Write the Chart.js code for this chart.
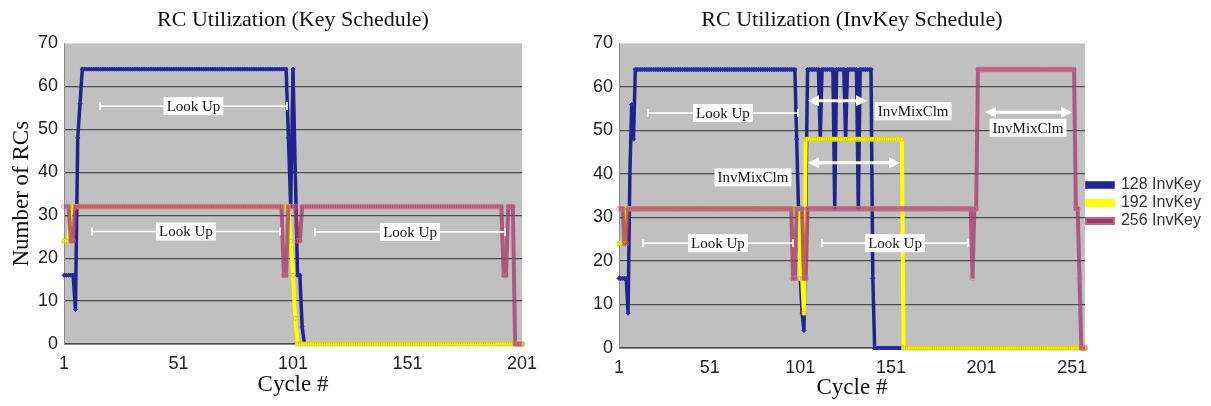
<!DOCTYPE html>
<html><head><meta charset="utf-8">
<script src="https://cdn.jsdelivr.net/npm/chart.js@4.4.1/dist/chart.umd.min.js"></script>
<style>
html,body{margin:0;padding:0;background:#fff;width:1211px;height:406px;overflow:hidden}
.box{position:absolute;top:0;height:406px}
</style></head><body>
<div class="box" style="left:0;width:560px"><canvas id="c1"></canvas></div>
<div class="box" style="left:575px;width:636px"><canvas id="c2"></canvas></div>
<script>
// ---------- categories / tick labels ----------
const keyCycles = Array.from({length: 201}, (_, i) => i + 1);
const invCycles = Array.from({length: 258}, (_, i) => i + 1);
const keyTickLabels = [1, 51, 101, 151, 201];
const invTickLabels = [1, 51, 101, 151, 201, 251];
const seriesNames = ['128 InvKey', '192 InvKey', '256 InvKey'];

// ---------- Key Schedule series (cycles 1..201) ----------
const key128 = [
16,16,16,16,16,8,48,56,64,64,
64,64,64,64,64,64,64,64,64,64, 64,64,64,64,64,64,64,64,64,64,
64,64,64,64,64,64,64,64,64,64, 64,64,64,64,64,64,64,64,64,64,
64,64,64,64,64,64,64,64,64,64, 64,64,64,64,64,64,64,64,64,64,
64,64,64,64,64,64,64,64,64,64, 64,64,64,64,64,64,64,64,64,64,
64,64,64,64,64,64,64,64,48,32,
64,40,16,16,4,0,0,0,0,0,
0,0,0,0,0,0,0,0,0,0, 0,0,0,0,0,0,0,0,0,0, 0,0,0,0,0,0,0,0,0,0,
0,0,0,0,0,0,0,0,0,0, 0,0,0,0,0,0,0,0,0,0, 0,0,0,0,0,0,0,0,0,0,
0,0,0,0,0,0,0,0,0,0, 0,0,0,0,0,0,0,0,0,0, 0,0,0,0,0,0,0,0,0,0,
0];
const key192 = [
24,24,24,32,32,32,32,32,32,32,
32,32,32,32,32,32,32,32,32,32, 32,32,32,32,32,32,32,32,32,32,
32,32,32,32,32,32,32,32,32,32, 32,32,32,32,32,32,32,32,32,32,
32,32,32,32,32,32,32,32,32,32, 32,32,32,32,32,32,32,32,32,32,
32,32,32,32,32,32,32,32,32,32, 32,32,32,32,32,32,32,32,32,32,
32,32,32,32,32,32,32,32,32,24,
16,6,0,0,0,0,0,0,0,0,
0,0,0,0,0,0,0,0,0,0, 0,0,0,0,0,0,0,0,0,0, 0,0,0,0,0,0,0,0,0,0,
0,0,0,0,0,0,0,0,0,0, 0,0,0,0,0,0,0,0,0,0, 0,0,0,0,0,0,0,0,0,0,
0,0,0,0,0,0,0,0,0,0, 0,0,0,0,0,0,0,0,0,0, 0,0,0,0,0,0,0,0,0,0,
0];
const key256 = [
32,32,32,24,24,32,32,32,32,32,
32,32,32,32,32,32,32,32,32,32, 32,32,32,32,32,32,32,32,32,32,
32,32,32,32,32,32,32,32,32,32, 32,32,32,32,32,32,32,32,32,32,
32,32,32,32,32,32,32,32,32,32, 32,32,32,32,32,32,32,32,32,32,
32,32,32,32,32,32,32,32,32,32, 32,32,32,32,32,32,32,32,32,32,
32,32,32,32,32,32,16,16,32,32,
32,32,24,24,32,32,32,32,32,32,
32,32,32,32,32,32,32,32,32,32, 32,32,32,32,32,32,32,32,32,32,
32,32,32,32,32,32,32,32,32,32, 32,32,32,32,32,32,32,32,32,32,
32,32,32,32,32,32,32,32,32,32, 32,32,32,32,32,32,32,32,32,32,
32,32,32,32,32,32,32,32,32,32, 32,32,32,32,32,32,32,32,32,32,
32,32,16,16,32,32,32,0,0,0,
0];

// ---------- InvKey Schedule series (cycles 1..258) ----------
const inv128 = [
16,16,16,16,16,8,40,56,48,64,
64,64,64,64,64,64,64,64,64,64, 64,64,64,64,64,64,64,64,64,64,
64,64,64,64,64,64,64,64,64,64, 64,64,64,64,64,64,64,64,64,64,
64,64,64,64,64,64,64,64,64,64, 64,64,64,64,64,64,64,64,64,64,
64,64,64,64,64,64,64,64,64,64, 64,64,64,64,64,64,64,64,64,64,
64,64,64,64,64,64,64,64,48,32,
16,8,4,32,64,64,64,64,64,64,
64,48,64,64,64,64,64,64,64,32,
64,64,64,64,64,48,64,64,64,64,
64,64,32,64,64,64,64,64,64,64,
16,0,0,0,0,0,0,0,0,0,
0,0,0,0,0,0,0,0,0,0, 0,0,0,0,0,0,0,0,0,0, 0,0,0,0,0,0,0,0,0,0,
0,0,0,0,0,0,0,0,0,0, 0,0,0,0,0,0,0,0,0,0, 0,0,0,0,0,0,0,0,0,0,
0,0,0,0,0,0,0,0,0,0, 0,0,0,0,0,0,0,0,0,0, 0,0,0,0,0,0,0,0,0,0,
0,0,0,0,0,0,0,0,0,0,
0,0,0,0,0,0,0,0];
const inv192 = [
24,24,24,24,32,32,32,32,32,32,
32,32,32,32,32,32,32,32,32,32, 32,32,32,32,32,32,32,32,32,32,
32,32,32,32,32,32,32,32,32,32, 32,32,32,32,32,32,32,32,32,32,
32,32,32,32,32,32,32,32,32,32, 32,32,32,32,32,32,32,32,32,32,
32,32,32,32,32,32,32,32,32,32, 32,32,32,32,32,32,32,32,32,32,
32,32,32,32,32,32,32,32,32,32,
16,16,8,48,48,48,48,48,48,48,
48,48,48,48,48,48,48,48,48,48, 48,48,48,48,48,48,48,48,48,48,
48,48,48,48,48,48,48,48,48,48, 48,48,48,48,48,48,48,48,48,48,
48,48,48,48,48,48,48,0,0,0,
0,0,0,0,0,0,0,0,0,0, 0,0,0,0,0,0,0,0,0,0, 0,0,0,0,0,0,0,0,0,0,
0,0,0,0,0,0,0,0,0,0, 0,0,0,0,0,0,0,0,0,0, 0,0,0,0,0,0,0,0,0,0,
0,0,0,0,0,0,0,0,0,0, 0,0,0,0,0,0,0,0,0,0, 0,0,0,0,0,0,0,0,0,0,
0,0,0,0,0,0,0,0];
const inv256 = [
32,32,32,24,24,32,32,32,32,32,
32,32,32,32,32,32,32,32,32,32, 32,32,32,32,32,32,32,32,32,32,
32,32,32,32,32,32,32,32,32,32, 32,32,32,32,32,32,32,32,32,32,
32,32,32,32,32,32,32,32,32,32, 32,32,32,32,32,32,32,32,32,32,
32,32,32,32,32,32,32,32,32,32, 32,32,32,32,32,32,32,32,32,32,
32,32,32,32,32,32,16,16,32,32,
32,32,16,16,32,32,32,32,32,32,
32,32,32,32,32,32,32,32,32,32, 32,32,32,32,32,32,32,32,32,32,
32,32,32,32,32,32,32,32,32,32, 32,32,32,32,32,32,32,32,32,32,
32,32,32,32,32,32,32,32,32,32, 32,32,32,32,32,32,32,32,32,32,
32,32,32,32,32,32,32,32,32,32, 32,32,32,32,32,32,32,32,32,32,
32,32,32,32,32,16,32,32,64,64,
64,64,64,64,64,64,64,64,64,64, 64,64,64,64,64,64,64,64,64,64,
64,64,64,64,64,64,64,64,64,64, 64,64,64,64,64,64,64,64,64,64,
64,64,64,64,64,64,64,64,64,64,
64,64,32,32,16,0,0,0];

// ---------- annotations (in cycle / RC units) ----------
const keySpans = [
  {from: 16.7, to: 98.4, at: 55.4, text: 'Look Up'},
  {from: 13.2, to: 95.3, at: 26.2, text: 'Look Up'},
  {from: 110.6, to: 193.6, at: 26.1, text: 'Look Up'}
];
const invSpans = [
  {from: 17, to: 99.7, at: 54, text: 'Look Up'},
  {from: 14.2, to: 97, at: 24.1, text: 'Look Up'},
  {from: 113, to: 193.5, at: 24.1, text: 'Look Up'}
];
const invArrows = [
  {from: 105.2, to: 137.8, at: 56.8},
  {from: 105.2, to: 156, at: 42.6},
  {from: 202.9, to: 250.9, at: 54.2}
];
const invNotes = [
  {cycle: 163.2, at: 54.4, text: 'InvMixClm'},
  {cycle: 74.9, at: 39.2, text: 'InvMixClm'},
  {cycle: 226.6, at: 50.6, text: 'InvMixClm'}
];

// ---------- plugin: plot background + annotations ----------
const annotPlugin = {
  id: 'annot',
  beforeDraw(chart) {
    const {ctx, chartArea: a} = chart;
    ctx.save();
    ctx.fillStyle = '#c0c0c0';
    ctx.fillRect(a.left, a.top, a.right - a.left, a.bottom - a.top);
    ctx.restore();
  },
  afterDatasetsDraw(chart, args, opts) {
    const {ctx} = chart;
    const xs = chart.scales.x, ys = chart.scales.y;
    const px = c => xs.getPixelForValue(c - 1);
    const py = v => ys.getPixelForValue(v);
    const label = (x, y, text) => {
      ctx.font = '15px "Liberation Serif"';
      const w = ctx.measureText(text).width;
      ctx.fillStyle = '#ffffff';
      ctx.fillRect(x - w / 2 - 3, y - 9, w + 6, 18);
      ctx.fillStyle = '#111';
      ctx.textAlign = 'center';
      ctx.textBaseline = 'middle';
      ctx.fillText(text, x, y + 1);
    };
    ctx.save();
    ctx.strokeStyle = '#ffffff';
    ctx.lineWidth = 1.6;
    (opts.spans || []).forEach(s => {
      const x1 = px(s.from), x2 = px(s.to), y = py(s.at);
      ctx.beginPath();
      ctx.moveTo(x1, y); ctx.lineTo(x2, y);
      ctx.moveTo(x1, y - 4); ctx.lineTo(x1, y + 4);
      ctx.moveTo(x2, y - 4); ctx.lineTo(x2, y + 4);
      ctx.stroke();
      label((x1 + x2) / 2, y, s.text);
    });
    (opts.arrows || []).forEach(s => {
      const x1 = px(s.from), x2 = px(s.to), y = py(s.at);
      ctx.lineWidth = 3;
      ctx.beginPath();
      ctx.moveTo(x1 + 8, y); ctx.lineTo(x2 - 8, y);
      ctx.stroke();
      ctx.fillStyle = '#ffffff';
      ctx.beginPath();
      ctx.moveTo(x1, y); ctx.lineTo(x1 + 11, y - 5.5); ctx.lineTo(x1 + 11, y + 5.5); ctx.closePath();
      ctx.moveTo(x2, y); ctx.lineTo(x2 - 11, y - 5.5); ctx.lineTo(x2 - 11, y + 5.5); ctx.closePath();
      ctx.fill();
    });
    (opts.notes || []).forEach(n => label(px(n.cycle), py(n.at), n.text));
    ctx.restore();
  }
};

function makeDatasets(a, b, c) {
  return [
    {label: seriesNames[0], data: a, order: 2, borderColor: '#22228c', backgroundColor: '#22228c',
     borderWidth: 3.5, pointStyle: 'rectRot', pointRadius: 2, pointBorderWidth: 1,
     pointBorderColor: '#2a2aa0', pointBackgroundColor: '#2a2aa0', clip: 6},
    {label: seriesNames[1], data: b, order: 1, borderColor: '#ffff00', backgroundColor: '#ffff00',
     borderWidth: 4, pointStyle: 'rect', pointRadius: 2.5, pointBorderWidth: 1,
     pointBorderColor: '#d6d600', pointBackgroundColor: '#ffff30', clip: 6},
    {label: seriesNames[2], data: c, order: 0, borderColor: 'rgba(165,55,100,0.75)', backgroundColor: '#8c3a66',
     borderWidth: 4, pointStyle: 'circle', pointRadius: 2.5, pointBorderWidth: 1,
     pointBorderColor: 'rgba(200,110,140,0.6)', pointBackgroundColor: 'rgba(0,0,0,0)', clip: 6}
  ];
}

function makeOptions(cfg) {
  return {
    responsive: true, maintainAspectRatio: false, animation: false, devicePixelRatio: 1,
    layout: {padding: cfg.padding},
    plugins: {
      title: {display: true, text: cfg.title, fullSize: false, color: '#111',
              font: {family: 'Liberation Serif', size: 22, weight: 'normal'},
              padding: {top: 7, bottom: 10}},
      legend: cfg.legend,
      tooltip: {enabled: false},
      annot: cfg.annot
    },
    scales: {
      x: {
        type: 'category',
        offset: false,
        afterFit: s => { s.height = cfg.xHeight; },
        grid: {display: false, drawTicks: false},
        border: {display: true, color: '#8a8a8a', width: 1},
        ticks: {autoSkip: false, maxRotation: 0, minRotation: 0, padding: 9, color: '#222',
                font: {family: 'Liberation Sans', size: 18},
                callback: function (v) { const l = this.getLabelForValue(v); return cfg.ticks.includes(l) ? String(l) : null; }},
        title: {display: true, text: 'Cycle #', color: '#111', align: cfg.xTitleAlign || 'center',
                font: {family: 'Liberation Serif', size: 23, weight: 'normal'}, padding: {top: 0, bottom: cfg.xTitlePad}}
      },
      y: {
        min: 0, max: 70,
        afterFit: s => { s.width = cfg.yWidth; },
        grid: {drawTicks: false, lineWidth: 1.2,
               color: c => (c.tick && c.tick.value === 70) ? 'rgba(0,0,0,0)' : '#4c4c4c'},
        border: {display: true, color: '#8a8a8a', width: 1},
        ticks: {stepSize: 10, padding: 6, color: '#222', font: {family: 'Liberation Sans', size: 18}},
        title: {display: cfg.yTitle, text: 'Number of RCs', color: '#111',
                font: {family: 'Liberation Serif', size: 23, weight: 'normal'}, padding: {top: 8, bottom: 0}}
      }
    }
  };
}

new Chart(document.getElementById('c1'), {
  type: 'line',
  data: {labels: keyCycles, datasets: makeDatasets(key128, key192, key256)},
  options: makeOptions({
    title: 'RC Utilization (Key Schedule)', padding: {left: 0, right: 38, top: 0, bottom: 0},
    legend: {display: false}, ticks: keyTickLabels, xHeight: 62, xTitlePad: 7, yWidth: 64, yTitle: true,
    annot: {spans: keySpans}
  }),
  plugins: [annotPlugin]
});

new Chart(document.getElementById('c2'), {
  type: 'line',
  data: {labels: invCycles, datasets: makeDatasets(inv128, inv192, inv256)},
  options: makeOptions({
    title: 'RC Utilization (InvKey Schedule)', padding: {left: 0, right: 0, top: 0, bottom: 0},
    legend: {display: true, position: 'right', align: 'center',
             labels: {boxWidth: 26, boxHeight: 4, padding: 2, color: '#333',
                      font: {family: 'Liberation Sans', size: 16},
                      sort: (a, b) => a.datasetIndex - b.datasetIndex}},
    ticks: invTickLabels, xHeight: 58, xTitlePad: 4, yWidth: 44, yTitle: false,
    annot: {spans: invSpans, arrows: invArrows, notes: invNotes}
  }),
  plugins: [annotPlugin]
});
</script>
</body></html>
